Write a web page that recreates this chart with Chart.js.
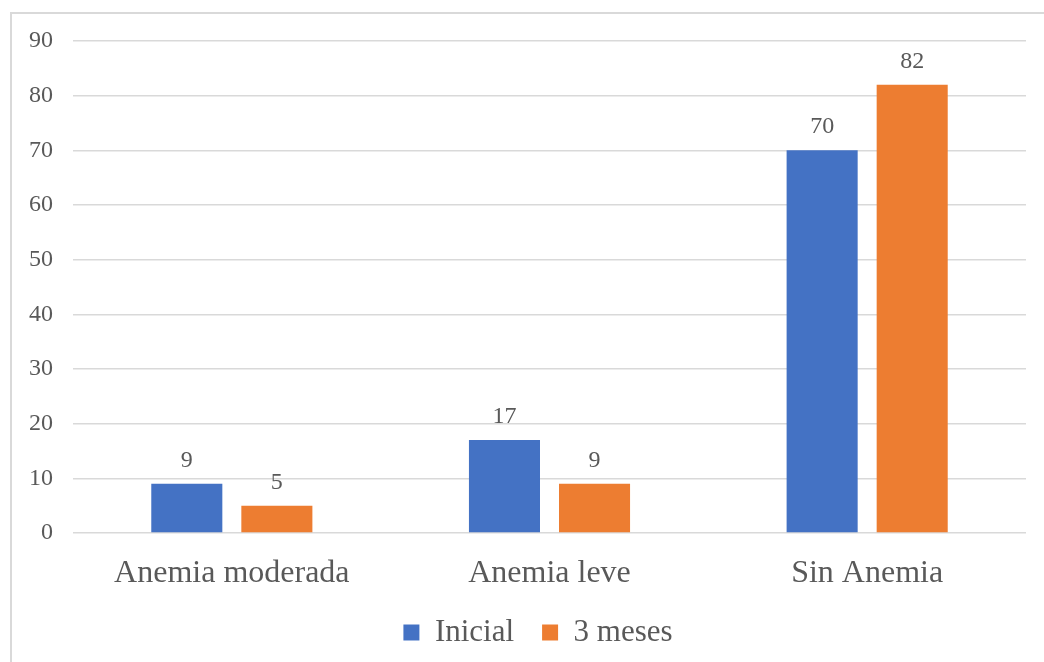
<!DOCTYPE html>
<html>
<head>
<meta charset="utf-8">
<script src="https://cdn.jsdelivr.net/npm/chart.js@4"></script>
<style>
html,body{margin:0;padding:0;background:#fff;overflow:hidden;}
#frame{position:absolute;left:10px;top:12px;width:1100px;height:700px;border:2px solid #d9d9d9;}
#wrap{position:absolute;left:0;top:0;width:1044px;height:662px;}
</style>
</head>
<body>
<div id="frame"></div>
<div id="wrap"><canvas id="main-chart"></canvas></div>
<script>
const categories=["Anemia moderada","Anemia leve","Sin Anemia"];
const inicial=[9,17,70];
const tresMeses=[5,9,82];
const seriesNames=["Inicial","3 meses"];

const textColor="#595959";
const fontFamily="'Liberation Serif','Times New Roman',serif";

// values drawn above each bar
const valueLabels={
    id:"valueLabels",
    afterDatasetsDraw(chart){
        const ctx=chart.ctx;
        ctx.save();
        ctx.font="24px "+fontFamily;
        ctx.fillStyle=textColor;
        ctx.textAlign="center";
        ctx.textBaseline="alphabetic";
        chart.data.datasets.forEach((ds,i)=>{
            chart.getDatasetMeta(i).data.forEach((bar,j)=>{
                ctx.fillText(String(ds.data[j]),bar.x,bar.y-17);
            });
        });
        ctx.restore();
    }
};

// legend sits a bit right of the canvas centre in the original
const legendShift={
    id:"legendShift",
    afterLayout(chart){
        if(chart.legend){
            chart.legend.left=50;
        }
    }
};

function createChart(){
    const ctx=document.getElementById("main-chart").getContext("2d");
    return new Chart(ctx,{
        type:"bar",
        data:{
            labels:categories,
            datasets:[
                {label:seriesNames[0],data:inicial,backgroundColor:"#4472C4",categoryPercentage:0.567,barPercentage:0.789},
                {label:seriesNames[1],data:tresMeses,backgroundColor:"#ED7D31",categoryPercentage:0.567,barPercentage:0.789}
            ]
        },
        options:{
            responsive:true,
            maintainAspectRatio:false,
            animation:false,
            layout:{padding:{left:0,right:18,top:41,bottom:4}},
            plugins:{
                legend:{
                    position:"bottom",
                    labels:{
                        color:textColor,
                        font:{family:fontFamily,size:31},
                        boxWidth:16,
                        boxHeight:16,
                        padding:28
                    }
                },
                tooltip:{enabled:false}
            },
            scales:{
                x:{
                    grid:{display:false},
                    border:{display:false},
                    ticks:{color:textColor,font:{family:fontFamily,size:32},padding:13,maxRotation:0},
                    afterFit:(s)=>{s.height=56;}
                },
                y:{
                    min:0,
                    max:90,
                    ticks:{stepSize:10,color:textColor,font:{family:fontFamily,size:24},padding:20},
                    grid:{color:"#d9d9d9",lineWidth:1.5,drawTicks:false},
                    border:{display:false},
                    afterFit:(s)=>{s.width=73;}
                }
            }
        },
        plugins:[valueLabels,legendShift]
    });
}

createChart();
</script>
</body>
</html>
